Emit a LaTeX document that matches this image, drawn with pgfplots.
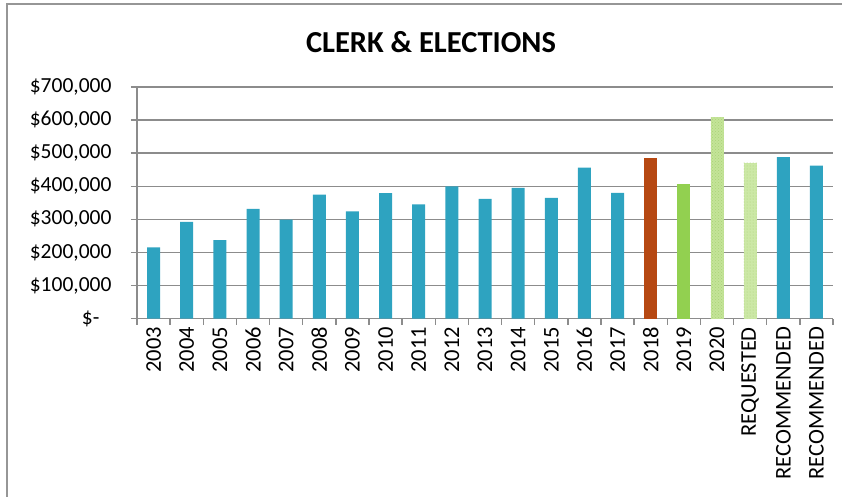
\documentclass[border=0pt]{standalone}
\usepackage{pgfplots}
\pgfplotsset{compat=1.18}
\usepackage{fontspec}
\setmainfont{Carlito}
\usetikzlibrary{patterns}
\definecolor{barteal}{RGB}{46,163,192}
\definecolor{barbrown}{RGB}{182,72,18}
\definecolor{bargreen}{RGB}{146,208,80}
\definecolor{barlight}{RGB}{196,228,152}
\definecolor{barlighter}{RGB}{204,232,166}
\definecolor{dotgreen}{RGB}{170,210,120}
\definecolor{gridgray}{RGB}{140,140,140}
\definecolor{framegray}{RGB}{150,150,150}
\begin{document}
\begin{tikzpicture}[x=1pt,y=1pt]
\useasboundingbox (0,0) rectangle (842,496);
\draw[framegray, line width=2pt] (7,-5) -- (7,492) -- (850,492);
\node[font=\fontsize{30.5}{36}\selectfont\bfseries] at (431,454) {CLERK \& ELECTIONS};
\begin{axis}[
  at={(137pt,177.4pt)}, anchor=south west,
  scale only axis, width=696pt, height=231.6pt,
  xmin=-0.5, xmax=20.5, ymin=0, ymax=700000,
  axis lines*=left,
  axis line style={gridgray, line width=1.5pt},
  ymajorgrids, grid style={gridgray, line width=1.5pt},
  ytick={0,100000,...,700000},
  yticklabels={\$-\kern12pt,{\$100,000},{\$200,000},{\$300,000},{\$400,000},{\$500,000},{\$600,000},{\$700,000}},
  scaled y ticks=false,
  xtick={0,...,20},
  xticklabels={2003,2004,2005,2006,2007,2008,2009,2010,2011,2012,2013,2014,2015,2016,2017,2018,2019,2020,REQUESTED,RECOMMENDED,RECOMMENDED},
  major x tick style={draw=none},
  minor xtick={-0.5,0.5,...,20.5},
  tick align=outside,
  major tick length=6pt, minor tick length=6pt,
  tick style={gridgray, line width=1.5pt},
  ticklabel style={font=\fontsize{21.5}{25}\selectfont},
  xticklabel style={rotate=90, anchor=east, xshift=1pt, font=\fontsize{22.5}{26}\selectfont},
  yticklabel style={xshift=-16pt},
  ybar, bar width=13pt, bar shift=0pt,
  clip=false,
]
\addplot[fill=barteal, draw=none] coordinates {
(0,215000) (1,292000) (2,237000) (3,332000) (4,299000) (5,375000) (6,324000)
(7,379000) (8,345000) (9,400000) (10,362000) (11,395000) (12,365000) (13,456000)
(14,380000) (19,488000) (20,462000)};
\addplot[fill=barbrown, draw=none] coordinates {(15,486000)};
\addplot[fill=bargreen, draw=none] coordinates {(16,407000)};
\addplot[fill=barlight, draw=none, postaction={pattern=crosshatch dots, pattern color=dotgreen}] coordinates {(17,609000)};
\addplot[fill=barlighter, draw=none, postaction={pattern=dots, pattern color=dotgreen}] coordinates {(18,471000)};
\end{axis}
\end{tikzpicture}
\end{document}
